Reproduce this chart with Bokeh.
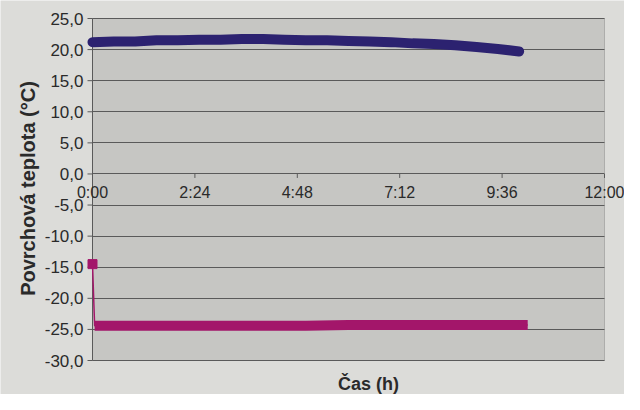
import math
from bokeh.plotting import figure
from bokeh.models import (FixedTicker, Range1d, LabelSet, Label,
                          ColumnDataSource, BoxAnnotation, Grid)
from bokeh.core.properties import value
from bokeh.embed import file_html
from bokeh.resources import INLINE

# time in hours
blue_t = [0.0, 0.5, 1.0, 1.5, 2.0, 2.5, 3.0, 3.5, 4.0, 4.5, 5.0, 5.5, 6.0, 6.5, 7.0, 7.5, 8.0, 8.5, 9.0, 9.5, 10.0]
blue_v = [21.2, 21.3, 21.3, 21.5, 21.5, 21.6, 21.6, 21.7, 21.7, 21.6, 21.5, 21.5, 21.4, 21.3, 21.2, 21.0, 20.9, 20.7, 20.4, 20.1, 19.7]

mag_t = [0.0, 0.05, 0.5, 1.0, 2.0, 3.0, 4.0, 5.0, 6.0, 7.0, 8.0, 9.0, 10.2]
mag_v = [-14.5, -24.4, -24.4, -24.4, -24.4, -24.4, -24.4, -24.4, -24.3, -24.3, -24.3, -24.3, -24.3]

y_ticks = [25, 20, 15, 10, 5, 0, -5, -10, -15, -20, -25, -30]
y_labels = ["25,0", "20,0", "15,0", "10,0", "5,0", "0,0", "-5,0", "-10,0", "-15,0", "-20,0", "-25,0", "-30,0"]
x_ticks = [0, 2.4, 4.8, 7.2, 9.6, 12]
x_labels = ["0:00", "2:24", "4:48", "7:12", "9:36", "12:00"]

X_MIN, X_MAX = 0, 12
Y_MIN, Y_MAX = -30, 25

FONT = "Liberation Sans"
TXT = "#2a2a2a"
PLOT_BG = "#c6c6c3"
PAGE_BG = "#dcdcd9"
LINE = "#5a5a5a"

# layout of the plot area inside the canvas (pixels)
W, H = 624, 394
LEFT_PX, RIGHT_PX = 92, 604    # where 0 h and 12 h sit
TOP_PX, BOTTOM_PX = 18, 360    # where 25 and -30 sit
pxh = (RIGHT_PX - LEFT_PX) / (X_MAX - X_MIN)
pxd = (BOTTOM_PX - TOP_PX) / (Y_MAX - Y_MIN)
x_lo = X_MIN - LEFT_PX / pxh
x_hi = X_MAX + (W - RIGHT_PX) / pxh
y_hi = Y_MAX + TOP_PX / pxd
y_lo = Y_MIN - (H - BOTTOM_PX) / pxd

p = figure(width=W, height=H, output_backend="svg", toolbar_location=None,
           x_range=Range1d(x_lo, x_hi), y_range=Range1d(y_lo, y_hi),
           x_axis_location=None, y_axis_location=None, min_border=0)
p.grid.visible = False
p.background_fill_color = PAGE_BG
p.border_fill_color = PAGE_BG
p.outline_line_color = None

# plot area
p.add_layout(BoxAnnotation(left=X_MIN, right=X_MAX, bottom=Y_MIN, top=Y_MAX,
                           fill_color=PLOT_BG, fill_alpha=1, line_color=LINE,
                           line_width=1, level="image"))
p.add_layout(Grid(dimension=1, ticker=FixedTicker(ticks=y_ticks), cross_bounds=(X_MIN, X_MAX),
                  grid_line_color=LINE, grid_line_width=1))

# y axis line, ticks and labels
p.segment(x0=[X_MIN], x1=[X_MIN], y0=[Y_MIN], y1=[Y_MAX], line_color=LINE, line_width=1)
p.segment(x0=[X_MIN - 5 / pxh] * len(y_ticks), x1=[X_MIN] * len(y_ticks),
          y0=y_ticks, y1=y_ticks, line_color=LINE, line_width=1)
ysrc = ColumnDataSource(data=dict(x=[X_MIN] * len(y_ticks), y=y_ticks, t=y_labels))
p.add_layout(LabelSet(x="x", y="y", text="t", source=ysrc, x_offset=-9,
                      text_align="right", text_baseline="middle",
                      text_font=value(FONT), text_font_size="17px", text_color=TXT))
p.add_layout(Label(x=X_MIN - 65 / pxh, y=Y_MAX - (188 - TOP_PX) / pxd, text="Povrchová teplota (°C)",
                   angle=math.pi / 2, text_align="center", text_baseline="middle",
                   text_font=FONT, text_font_style="bold", text_font_size="20px",
                   text_color=TXT))

# x axis (crosses at 0) ticks and labels
p.segment(x0=x_ticks, x1=x_ticks, y0=[0] * len(x_ticks), y1=[-4 / pxd] * len(x_ticks),
          line_color=LINE, line_width=1)
xsrc = ColumnDataSource(data=dict(x=x_ticks, y=[0] * len(x_ticks), t=x_labels))
p.add_layout(LabelSet(x="x", y="y", text="t", source=xsrc, y_offset=-10,
                      text_align="center", text_baseline="top",
                      text_font=value(FONT), text_font_size="16px", text_color=TXT))

p.add_layout(Label(x=X_MIN + (368 - LEFT_PX) / pxh, y=Y_MIN - 23 / pxd, text="Čas (h)",
                   text_align="center", text_baseline="middle",
                   text_font=FONT, text_font_style="bold", text_font_size="18px",
                   text_color=TXT))

# series
p.line(blue_t, blue_v, line_color="#2c2270", line_width=10, line_cap="round", line_join="round")
p.line(mag_t, mag_v, line_color="#a3166a", line_width=1.5)
p.line(mag_t[1:], mag_v[1:], line_color="#a3166a", line_width=10)
p.scatter(mag_t[:1], mag_v[:1], marker="square", size=9, color="#a3166a")

open("out.html", "w").write(file_html(p, INLINE))
